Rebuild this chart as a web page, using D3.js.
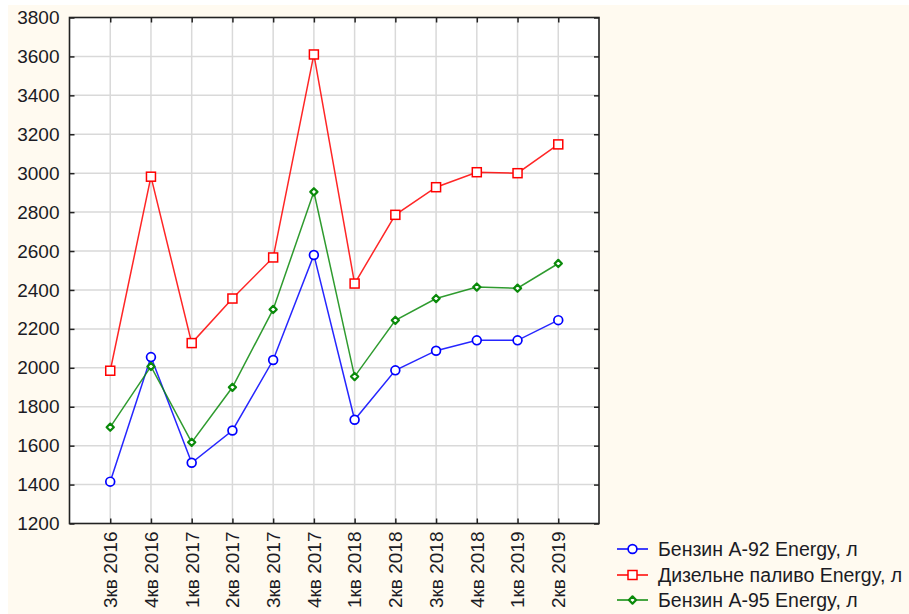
<!DOCTYPE html>
<html>
<head>
<meta charset="utf-8">
<script src="https://cdn.jsdelivr.net/npm/d3@7"></script>
<style>
  html, body { margin: 0; padding: 0; background: #ffffff; }
  svg { display: block; }
  text { font-family: "Liberation Sans", Arial, sans-serif; fill: #1b1b24; }
</style>
</head>
<body>
<svg id="chart" width="909" height="614"></svg>
<script>
// Quarters
const quarters = ["3кв 2016", "4кв 2016", "1кв 2017", "2кв 2017", "3кв 2017", "4кв 2017",
                  "1кв 2018", "2кв 2018", "3кв 2018", "4кв 2018", "1кв 2019", "2кв 2019"];

// Sales volumes, litres
const petrolA92 = [1415, 2055, 1512, 1678, 2040, 2580, 1733, 1987, 2088, 2141, 2141, 2245];
const diesel    = [1985, 2982, 2127, 2356, 2567, 3610, 2433, 2786, 2928, 3005, 3000, 3148];
const petrolA95 = [1695, 2007, 1617, 1900, 2300, 2904, 1955, 2244, 2356, 2415, 2409, 2536];

const seriesNames = ["Бензин А-92 Energy, л", "Дизельне паливо Energy, л", "Бензин А-95 Energy, л"];
const seriesColors = ["#0000ff", "#ff0000", "#0a8a0a"];
const seriesMarkers = ["circle", "square", "diamond"];

const yTicks = [1200, 1400, 1600, 1800, 2000, 2200, 2400, 2600, 2800, 3000, 3200, 3400, 3600, 3800];

const series = [petrolA92, diesel, petrolA95].map((values, i) => ({
  name: seriesNames[i], color: seriesColors[i], marker: seriesMarkers[i], values
}));

const svg = d3.select("#chart");
const W = 909, H = 614;
const plot = { left: 69.5, right: 599, top: 17.5, bottom: 523.5 };

// Cream page panel
svg.append("rect").attr("x", 8).attr("y", 5).attr("width", W - 8).attr("height", H - 5)
  .attr("fill", "#fffaf0");

const x = d3.scalePoint().domain(quarters).range([plot.left, plot.right]).padding(1);
const y = d3.scaleLinear().domain([1200, 3800]).range([plot.bottom, plot.top]);

// Plot background
svg.append("rect").attr("x", plot.left).attr("y", plot.top)
  .attr("width", plot.right - plot.left).attr("height", plot.bottom - plot.top)
  .attr("fill", "#ffffff");

// Grid
const grid = svg.append("g").attr("stroke", "#d9d9d9").attr("stroke-width", 1.5);
grid.selectAll("line.h").data(yTicks.slice(1, -1)).join("line")
  .attr("x1", plot.left).attr("x2", plot.right)
  .attr("y1", d => y(d)).attr("y2", d => y(d));
grid.selectAll("line.v").data(quarters).join("line")
  .attr("y1", plot.top).attr("y2", plot.bottom)
  .attr("x1", d => x(d)).attr("x2", d => x(d));

// Axes with inward ticks on all four sides
const tickLen = 5;
const axisLeft = d3.axisLeft(y).tickValues(yTicks).tickFormat(d3.format("d"))
  .tickSizeInner(-tickLen).tickSizeOuter(0).tickPadding(10);
const axisRight = d3.axisRight(y).tickValues(yTicks).tickSizeInner(-tickLen).tickSizeOuter(0).tickFormat("");
const axisBottom = d3.axisBottom(x).tickSizeInner(-tickLen).tickSizeOuter(0).tickFormat("");
const axisTop = d3.axisTop(x).tickSizeInner(-tickLen).tickSizeOuter(0).tickFormat("");

function styleAxis(g) {
  g.select(".domain").remove();
  g.selectAll(".tick line").attr("stroke", "#222").attr("stroke-width", 1.5);
}

svg.append("g").attr("transform", `translate(${plot.left},0)`).call(axisLeft).call(styleAxis)
  .selectAll(".tick text").attr("font-size", 19).attr("font-family", "Liberation Sans, Arial, sans-serif")
  .attr("fill", "#1b1b24").attr("x", 59.5 - plot.left);
svg.append("g").attr("transform", `translate(${plot.right},0)`).call(axisRight).call(styleAxis);
svg.append("g").attr("transform", `translate(0,${plot.bottom})`).call(axisBottom).call(styleAxis);
svg.append("g").attr("transform", `translate(0,${plot.top})`).call(axisTop).call(styleAxis);

// Rotated quarter labels
svg.append("g").selectAll("text").data(quarters).join("text")
  .attr("transform", d => `translate(${x(d)},${plot.bottom + 8}) rotate(-90)`)
  .attr("text-anchor", "end").attr("dy", "0.36em")
  .attr("font-size", 19).text(d => d);

// Frame
svg.append("rect").attr("x", plot.left).attr("y", plot.top)
  .attr("width", plot.right - plot.left).attr("height", plot.bottom - plot.top)
  .attr("fill", "none").attr("stroke", "#222").attr("stroke-width", 1.6);

// Marker drawing
function drawMarker(g, type, color) {
  if (type === "circle") {
    g.append("circle").attr("r", 4.4).attr("fill", "#fff").attr("stroke", color).attr("stroke-width", 1.7);
  } else if (type === "square") {
    g.append("rect").attr("x", -4.5).attr("y", -4.5).attr("width", 9).attr("height", 9)
      .attr("fill", "#fff").attr("stroke", color).attr("stroke-width", 1.5);
  } else {
    g.append("path").attr("d", "M0,-3.6L3.6,0L0,3.6L-3.6,0Z")
      .attr("fill", "#fff").attr("stroke", color).attr("stroke-width", 2.2).attr("stroke-linejoin", "round");
  }
}

const line = d3.line().x((d, i) => x(quarters[i])).y(d => y(d));

series.forEach(s => {
  svg.append("path").datum(s.values).attr("d", line)
    .attr("fill", "none").attr("stroke", s.color).attr("stroke-width", 1.5).attr("stroke-opacity", 0.85);
  s.values.forEach((v, i) => {
    const g = svg.append("g").attr("transform", `translate(${x(quarters[i])},${y(v)})`);
    drawMarker(g, s.marker, s.color);
  });
});

// Legend
const legendRows = [549, 575, 600];
series.forEach((s, i) => {
  const ly = legendRows[i];
  svg.append("line").attr("x1", 617).attr("x2", 648).attr("y1", ly).attr("y2", ly)
    .attr("stroke", s.color).attr("stroke-width", 1.5);
  const g = svg.append("g").attr("transform", `translate(632.5,${ly})`);
  drawMarker(g, s.marker, s.color);
  svg.append("text").attr("x", 658).attr("y", ly).attr("dy", "0.36em")
    .attr("font-size", 19.5).text(s.name);
});
</script>
</body>
</html>
